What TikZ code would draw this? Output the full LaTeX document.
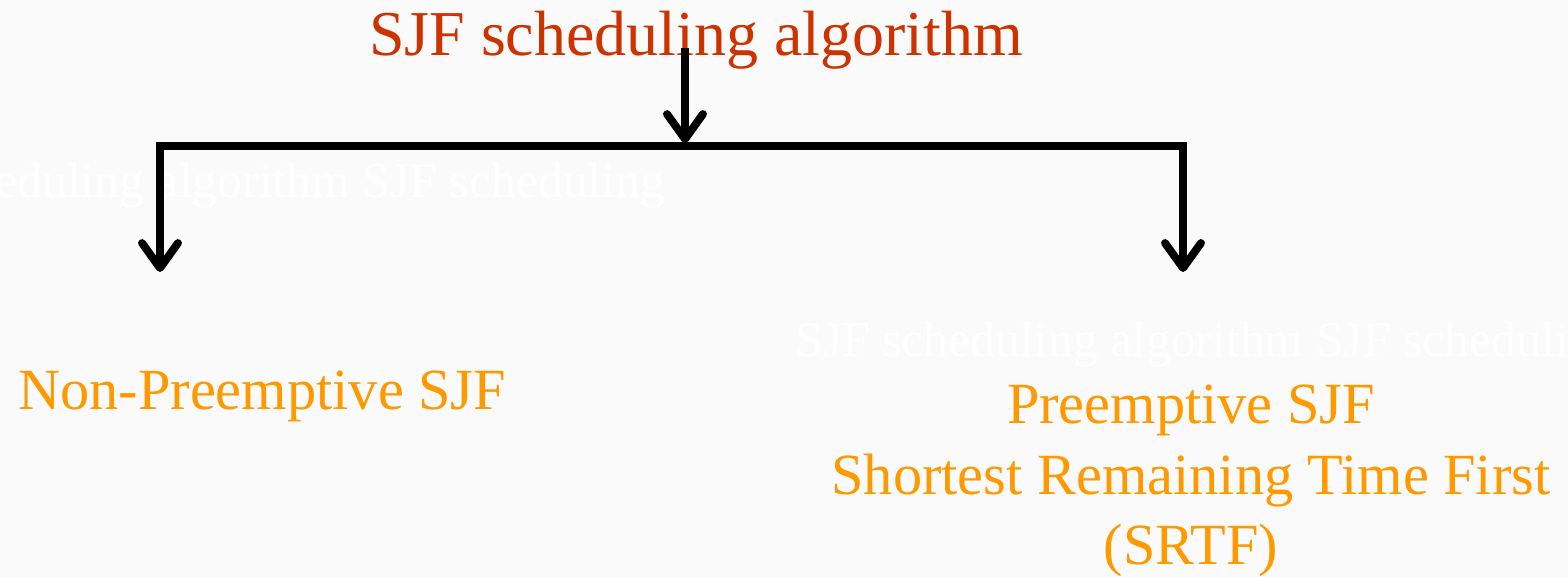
\documentclass[tikz,border=0pt]{standalone}
\usepackage{xcolor}
\usepackage{fontspec}
\setmainfont{Liberation Serif}
\usepackage{tikz}
\usetikzlibrary{arrows.meta}
\definecolor{titlered}{HTML}{CC3300}
\definecolor{leaforange}{HTML}{FF9900}
\definecolor{paper}{HTML}{FAFAFA}

\begin{document}
\begin{tikzpicture}[x=0.02cm,y=-0.02cm,
	title node/.style={text=titlered, font=\fontsize{36.4}{44}\selectfont, inner sep=0pt, anchor=base},
	leaf node/.style={text=leaforange, font=\fontsize{33.2}{40}\selectfont, inner sep=0pt},
	faint node/.style={text=white, font=\fontsize{28.3}{34}\selectfont, inner sep=0pt, anchor=base west},
	branch/.style={line width=4.5pt, line cap=rect},
	tip/.style={-{Straight Barb[length=0.5cm,width=0.72cm,round]}}]
			\useasboundingbox[fill=paper] (0,0) rectangle (1568,577);
			% Faint background lettering
			\node[faint node] (f1) at (-5,198) {eduling algorithm SJF scheduling};
			\node[faint node] (f2) at (795,357) {SJF scheduling algorithm SJF scheduling};
			
			% Nodes
			\node[title node] (sjf) at (696,56) {SJF scheduling algorithm};
			\node[leaf node, anchor=base west] (np) at (18,409) {Non-Preemptive SJF};
			\node[leaf node, anchor=north, align=center] (p) at (1191,385) {Preemptive SJF\\Shortest Remaining Time First\\(SRTF)};
			
			% Branch points
			\coordinate (top) at (685,52);
			\coordinate (mid) at (685,143);
			\coordinate (bl) at (160,146);
			\coordinate (br) at (1183,146);
			\coordinate (el) at (160,272);
			\coordinate (er) at (1183,272);
			
			\draw[branch, tip] (top) -- (mid);
			\draw[branch] (bl) -- (br);
			\draw[branch, tip] (bl) -- (el);
			\draw[branch, tip] (br) -- (er);
			
		\end{tikzpicture}
\end{document}
